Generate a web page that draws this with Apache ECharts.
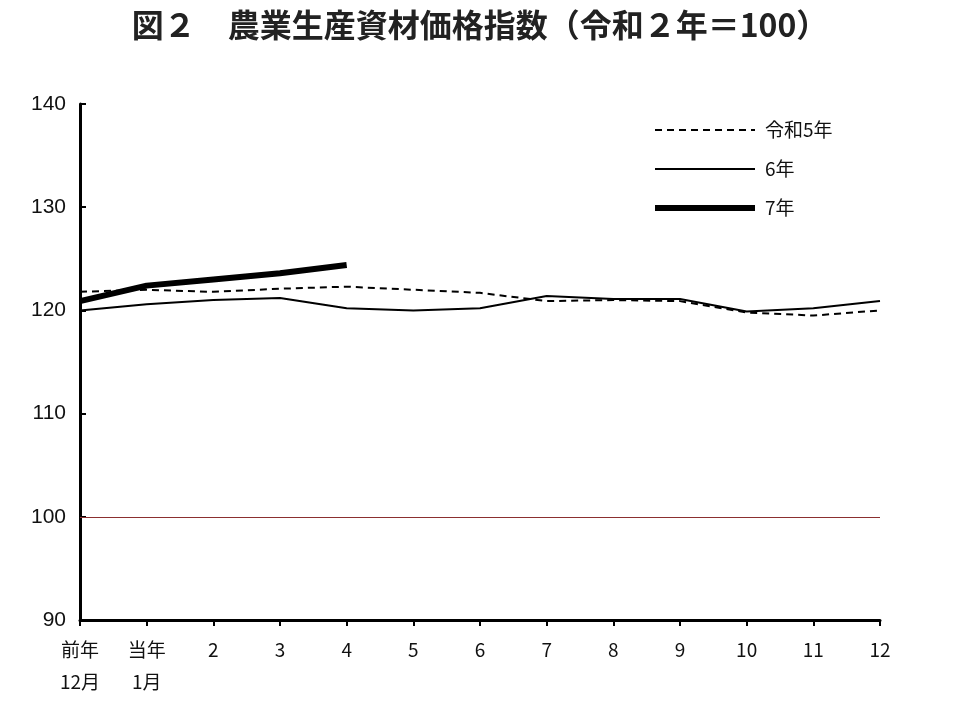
<!DOCTYPE html>
<html><head><meta charset="utf-8">
<script src="https://cdn.jsdelivr.net/npm/echarts@6/dist/echarts.min.js"></script>
<style>body{margin:0}#c{width:960px;height:706px}</style></head>
<body><div id="c"></div>
<script>
const categories = ['前年\n12月','当年\n1月','2','3','4','5','6','7','8','9','10','11','12'];
const r5 = [121.8,122.0,121.8,122.1,122.3,122.0,121.7,120.9,121.0,120.9,119.8,119.5,120.0];
const r6 = [120.0,120.6,121.0,121.2,120.2,120.0,120.2,121.4,121.1,121.1,119.9,120.2,120.9];
const r7 = [120.9,122.4,123.0,123.6,124.4];
const names = ['令和5年','6年','7年'];
const F = '"Noto Sans CJK JP", sans-serif';
const chart = echarts.init(document.getElementById('c'));
const leg = [];
[[2,[7,5]],[2,'solid'],[6,'solid']].forEach((s,i)=>{
  const y = 130 + i*39;
  leg.push({type:'line',shape:{x1:655,y1:y,x2:755,y2:y},style:{stroke:'#000',lineWidth:s[0],lineDash:s[1]==='solid'?null:s[1]}});
  leg.push({type:'text',x:765,y:y,style:{text:names[i],font:'19px '+F,fill:'#111',textVerticalAlign:'middle'}});
});
chart.setOption({
  animation:false,
  backgroundColor:'#fff',
  title:{text:'図２　農業生産資材価格指数（令和２年＝100）',left:'center',top:4,
    textStyle:{fontFamily:F,fontSize:32,fontWeight:'bold',color:'#222'}},
  graphic:leg,
  grid:{left:80,right:80,top:104,bottom:86},
  xAxis:{type:'category',boundaryGap:false,data:categories,
    axisLine:{lineStyle:{color:'#000',width:3}},
    axisTick:{alignWithLabel:true,length:6,lineStyle:{color:'#000',width:2}},
    axisLabel:{fontFamily:F,fontSize:19,color:'#111',margin:14,lineHeight:32,interval:0}},
  yAxis:{type:'value',min:90,max:140,interval:10,
    axisLine:{show:true,lineStyle:{color:'#000',width:3}},
    axisTick:{show:true,inside:true,length:6,lineStyle:{color:'#000',width:2}},
    splitLine:{show:false},
    axisLabel:{fontFamily:'Liberation Sans, Arial',fontSize:21,color:'#111',margin:14}},
  series:[
    {name:names[0],type:'line',data:r5,symbol:'none',
     lineStyle:{color:'#000',width:2,type:[7,5]},
     markLine:{silent:true,symbol:'none',label:{show:false},
       lineStyle:{color:'#8b2f2f',width:1,type:'solid'},data:[{yAxis:100}]}},
    {name:names[1],type:'line',data:r6,symbol:'none',lineStyle:{color:'#000',width:2}},
    {name:names[2],type:'line',data:r7,symbol:'none',lineStyle:{color:'#000',width:6}}
  ]
});
</script></body></html>
